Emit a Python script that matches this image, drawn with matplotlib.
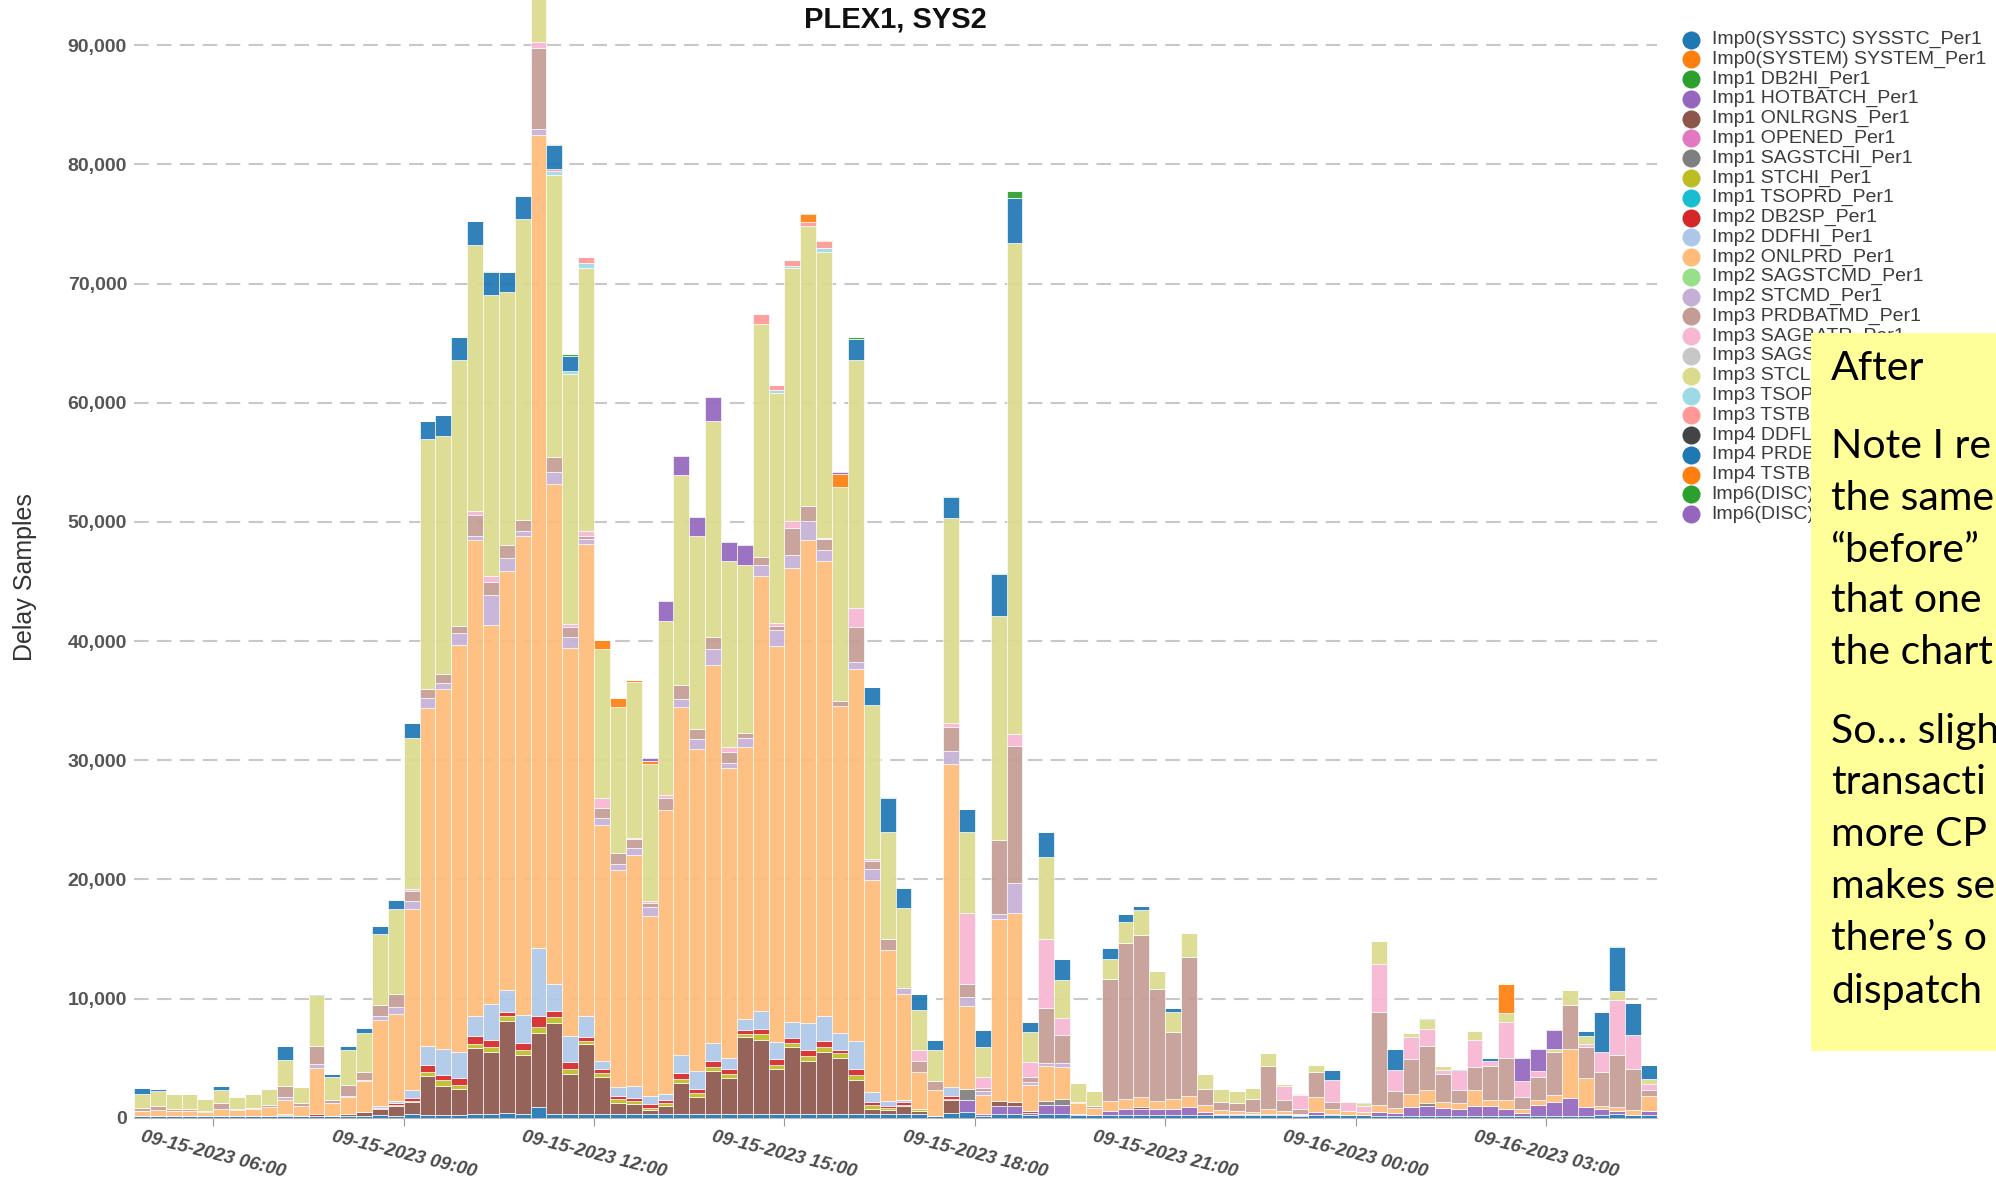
import numpy as np
import matplotlib.pyplot as plt
from matplotlib.patches import Rectangle
from matplotlib.lines import Line2D

plt.rcParams['font.family'] = ['Liberation Sans', 'DejaVu Sans']

# 96 intervals of 15 minutes, 09-15 04:45 .. 09-16 04:45
tick_pos = [5, 17, 29, 41, 53, 65, 77, 89]
tick_labels = ['09-15-2023 06:00', '09-15-2023 09:00', '09-15-2023 12:00', '09-15-2023 15:00',
               '09-15-2023 18:00', '09-15-2023 21:00', '09-16-2023 00:00', '09-16-2023 03:00']

# delay samples per service class
sysstc = [150, 150, 150, 150, 150, 150, 150, 150, 150, 150, 150, 150,
          150, 150, 150, 200, 160, 300, 200, 200, 200, 350, 300, 400,
          350, 900, 350, 350, 350, 350, 350, 350, 350, 350, 350, 350,
          350, 350, 350, 350, 350, 350, 350, 350, 350, 350, 350, 350,
          300, 300, 150, 400, 450, 150, 300, 300, 200, 300, 350, 200,
          200, 200, 200, 200, 200, 200, 200, 200, 200, 200, 200, 200,
          200, 150, 200, 200, 200, 200, 150, 150, 150, 150, 150, 150,
          150, 150, 150, 150, 150, 150, 150, 150, 200, 300, 200, 200]
hotbatch = [0, 0, 0, 0, 0, 0, 0, 0, 0, 0, 0, 0,
            0, 0, 0, 0, 0, 0, 0, 0, 0, 0, 0, 0,
            0, 0, 0, 0, 0, 0, 0, 0, 0, 0, 0, 0,
            0, 0, 0, 0, 0, 0, 0, 0, 0, 0, 0, 0,
            0, 0, 0, 0, 1000, 200, 700, 700, 200, 800, 750, 100,
            0, 400, 500, 500, 500, 500, 700, 250, 100, 100, 100, 100,
            100, 100, 250, 150, 0, 0, 300, 250, 750, 800, 650, 600,
            850, 800, 550, 250, 950, 1200, 1500, 750, 500, 300, 0, 350]
onlrgns = [0, 0, 0, 0, 0, 0, 0, 0, 0, 100, 0, 0,
           0, 150, 300, 500, 800, 1000, 3300, 2500, 2200, 5500, 5200, 7700,
           4900, 6200, 7600, 3300, 5800, 3100, 900, 800, 300, 600, 2600, 1400,
           3600, 3000, 6400, 6200, 3700, 5600, 4400, 5200, 4700, 2800, 400, 300,
           700, 300, 0, 1100, 0, 0, 400, 300, 150, 0, 0, 0,
           0, 0, 0, 200, 0, 0, 0, 0, 0, 0, 0, 0,
           0, 0, 0, 0, 0, 0, 0, 0, 0, 0, 0, 0,
           0, 0, 0, 0, 0, 0, 0, 0, 0, 0, 0, 0]
sagstchi = [0, 0, 0, 0, 0, 0, 0, 0, 0, 0, 0, 0,
            0, 0, 0, 0, 0, 0, 0, 0, 0, 0, 0, 0,
            0, 0, 0, 0, 0, 0, 0, 0, 0, 0, 0, 0,
            0, 0, 0, 0, 0, 0, 0, 0, 0, 0, 0, 0,
            0, 0, 0, 0, 950, 0, 0, 0, 0, 300, 450, 0,
            0, 0, 0, 0, 0, 0, 0, 0, 0, 0, 0, 0,
            0, 0, 0, 0, 0, 0, 0, 0, 0, 300, 0, 0,
            0, 0, 0, 0, 0, 0, 0, 0, 0, 0, 0, 0]
stchi = [0, 0, 0, 0, 0, 0, 0, 0, 0, 0, 0, 0,
         0, 0, 0, 0, 100, 100, 300, 450, 350, 350, 450, 400,
         400, 500, 500, 400, 300, 300, 300, 250, 200, 250, 300, 300,
         300, 300, 300, 500, 400, 300, 400, 400, 400, 400, 300, 150,
         100, 100, 0, 100, 0, 0, 0, 0, 0, 0, 0, 0,
         0, 0, 0, 0, 0, 0, 0, 0, 0, 0, 0, 0,
         0, 0, 0, 0, 0, 0, 0, 0, 0, 0, 0, 0,
         0, 0, 0, 0, 0, 0, 0, 0, 0, 0, 0, 0]
db2sp = [0, 0, 0, 0, 0, 0, 0, 0, 0, 100, 0, 150,
         0, 0, 0, 150, 150, 250, 600, 450, 550, 650, 600, 400,
         600, 900, 500, 600, 300, 300, 250, 250, 300, 300, 500, 400,
         550, 400, 300, 400, 500, 400, 500, 500, 200, 500, 300, 200,
         200, 0, 0, 200, 0, 0, 0, 0, 0, 0, 0, 0,
         0, 0, 0, 0, 0, 0, 0, 0, 0, 0, 0, 0,
         0, 0, 0, 0, 0, 0, 0, 0, 0, 0, 0, 0,
         0, 0, 0, 0, 0, 0, 0, 0, 0, 0, 0, 0]
ddfhi = [0, 0, 0, 0, 0, 0, 0, 0, 0, 0, 0, 0,
         0, 0, 0, 150, 200, 700, 1600, 2200, 2200, 1700, 3000, 1800,
         2400, 5700, 2300, 2200, 1800, 750, 800, 1000, 700, 500, 1500, 1500,
         1450, 1000, 900, 1500, 1400, 1400, 2300, 2100, 1500, 2400, 800, 400,
         200, 0, 0, 800, 0, 0, 0, 0, 0, 0, 0, 0,
         0, 0, 0, 0, 0, 0, 0, 0, 0, 0, 0, 0,
         0, 0, 0, 0, 0, 0, 0, 0, 0, 0, 0, 0,
         0, 0, 0, 0, 0, 0, 0, 0, 0, 0, 0, 0]
onlprd = [450, 500, 450, 450, 350, 600, 500, 550, 750, 1150, 800, 3900,
          1050, 1400, 2600, 7200, 7300, 15200, 28400, 30200, 34200, 39900, 31800, 35200,
          40200, 68300, 41900, 32600, 39600, 19750, 18200, 19400, 15100, 23800, 29200, 27000,
          31700, 24300, 22900, 36500, 33200, 38100, 40500, 38200, 27400, 31200, 17800, 12700,
          8900, 3100, 2200, 27100, 7000, 1550, 15300, 15900, 2200, 2900, 2700, 900,
          600, 800, 900, 800, 700, 850, 950, 600, 350, 300, 200, 450,
          300, 100, 1250, 350, 350, 300, 650, 400, 1100, 1100, 500, 500,
          1300, 550, 750, 300, 400, 550, 4150, 2450, 250, 300, 450, 1300]
stcmd = [0, 0, 0, 0, 0, 0, 0, 0, 0, 200, 0, 300,
         0, 150, 150, 300, 600, 600, 800, 500, 1000, 400, 2500, 1100,
         400, 500, 1000, 900, 400, 600, 500, 600, 700, 0, 700, 800,
         1400, 400, 700, 900, 1400, 1100, 1600, 900, 0, 600, 900, 0,
         500, 0, 0, 1100, 700, 300, 400, 2500, 250, 300, 300, 0,
         0, 0, 0, 0, 0, 0, 0, 0, 0, 0, 0, 0,
         0, 0, 0, 0, 0, 0, 0, 0, 0, 0, 0, 0,
         0, 0, 0, 0, 0, 0, 0, 0, 0, 0, 0, 0]
prdbatmd = [220, 300, 150, 100, 50, 450, 100, 100, 150, 1000, 300, 1500,
            300, 900, 600, 1000, 1100, 900, 800, 700, 600, 1700, 1100, 1100,
            900, 6800, 1300, 800, 300, 800, 900, 700, 400, 1000, 1200, 900,
            1000, 900, 400, 700, 300, 2200, 1300, 900, 400, 2900, 700, 900,
            0, 1000, 700, 2000, 1100, 300, 6200, 11500, 450, 4600, 2400, 100,
            200, 10250, 13100, 13600, 9400, 5650, 11650, 1400, 700, 600, 1100, 3550,
            850, 400, 2150, 600, 0, 0, 7800, 1400, 2900, 3700, 2400, 1100,
            1950, 2850, 3550, 1050, 1950, 3650, 3700, 2600, 2850, 4400, 3450, 450]
sagbatr = [0, 0, 0, 0, 0, 0, 0, 0, 0, 0, 0, 0,
           0, 0, 0, 0, 0, 150, 0, 0, 0, 400, 500, 0,
           0, 500, 0, 300, 400, 900, 0, 100, 150, 300, 0, 0,
           0, 500, 0, 0, 300, 600, 0, 100, 0, 1600, 200, 0,
           0, 900, 0, 300, 6000, 900, 0, 1000, 1200, 5800, 1400, 0,
           0, 0, 0, 0, 0, 0, 0, 0, 0, 0, 0, 0,
           1200, 1150, 0, 1900, 750, 500, 4000, 1800, 1900, 1400, 300, 1650,
           2300, 450, 3000, 1300, 500, 0, 0, 250, 1700, 4550, 2800, 550]
stclo = [1150, 1300, 1200, 1250, 1050, 1100, 1000, 1200, 1350, 2150, 1350, 4300,
         1950, 2950, 3300, 5900, 7100, 12700, 21000, 20000, 22300, 22300, 23600, 21200,
         25300, 5700, 23700, 21000, 22100, 12500, 12300, 13100, 11500, 14600, 17600, 16200,
         18100, 15600, 14100, 19600, 19300, 21300, 23500, 24000, 18000, 20800, 12900, 9000,
         6700, 3300, 2600, 17200, 6800, 2500, 18800, 41200, 2550, 6900, 3200, 1600,
         1200, 1700, 1700, 2100, 1500, 1700, 2000, 1200, 1100, 1000, 900, 1100,
         200, 100, 550, 0, 100, 200, 1900, 0, 300, 800, 300, 0,
         700, 0, 800, 0, 0, 250, 1200, 650, 0, 800, 0, 400]
tsop3 = [0, 0, 0, 0, 0, 0, 0, 0, 0, 0, 0, 0,
         0, 0, 0, 0, 0, 0, 0, 0, 0, 0, 0, 0,
         0, 0, 300, 200, 400, 0, 0, 0, 0, 0, 0, 0,
         0, 0, 0, 0, 200, 100, 0, 300, 0, 0, 0, 0,
         0, 0, 0, 0, 0, 0, 0, 0, 0, 0, 0, 0,
         0, 0, 0, 0, 0, 0, 0, 0, 0, 0, 0, 0,
         0, 100, 0, 0, 0, 0, 0, 0, 0, 0, 0, 0,
         0, 0, 0, 0, 0, 0, 0, 0, 0, 0, 0, 0]
tstb3 = [0, 0, 0, 0, 0, 0, 0, 0, 0, 0, 0, 0,
         0, 0, 0, 0, 0, 0, 0, 0, 0, 0, 0, 0,
         0, 0, 200, 0, 500, 0, 0, 0, 0, 0, 0, 0,
         0, 0, 0, 800, 400, 500, 300, 600, 0, 0, 0, 0,
         0, 0, 0, 0, 0, 0, 0, 0, 0, 0, 0, 0,
         0, 0, 0, 0, 0, 0, 0, 0, 0, 0, 0, 0,
         0, 0, 0, 0, 0, 0, 0, 0, 0, 0, 0, 0,
         0, 0, 0, 0, 0, 0, 0, 0, 0, 0, 0, 0]
prdbatlo = [500, 200, 80, 0, 0, 350, 0, 0, 0, 1200, 0, 100,
            200, 300, 450, 700, 800, 1200, 1500, 1800, 1900, 2000, 1900, 1700,
            1900, 0, 2000, 1300, 0, 0, 0, 0, 0, 0, 0, 0,
            0, 0, 0, 0, 0, 0, 0, 0, 0, 1800, 1500, 2800,
            1700, 1400, 900, 1800, 1900, 1500, 3500, 3800, 800, 2100, 1800, 0,
            0, 900, 700, 350, 0, 300, 0, 0, 0, 0, 0, 0,
            0, 0, 0, 800, 0, 100, 0, 1800, 0, 150, 0, 100,
            0, 200, 0, 0, 0, 0, 0, 450, 3350, 3650, 2700, 1200]
tstbatlo = [0, 0, 0, 0, 0, 0, 0, 0, 0, 0, 0, 0,
            0, 0, 0, 0, 0, 0, 0, 0, 0, 0, 0, 0,
            0, 0, 0, 0, 0, 700, 700, 200, 200, 0, 0, 0,
            0, 0, 0, 0, 0, 0, 700, 150, 1100, 0, 0, 0,
            0, 0, 0, 0, 0, 0, 0, 0, 0, 0, 0, 0,
            0, 0, 0, 0, 0, 0, 0, 0, 0, 0, 0, 0,
            0, 0, 0, 0, 0, 0, 0, 0, 0, 0, 0, 0,
            0, 0, 2400, 0, 0, 0, 0, 0, 0, 0, 0, 0]
disc1 = [0, 0, 0, 0, 0, 0, 0, 0, 0, 0, 0, 0,
         0, 0, 0, 0, 0, 0, 0, 0, 0, 0, 100, 0,
         0, 0, 100, 100, 0, 0, 0, 0, 0, 0, 0, 0,
         0, 0, 0, 0, 0, 0, 100, 0, 0, 150, 0, 100,
         0, 0, 0, 100, 0, 0, 150, 600, 0, 0, 0, 0,
         0, 0, 0, 0, 0, 0, 0, 0, 0, 0, 0, 0,
         0, 0, 0, 0, 0, 0, 0, 0, 0, 0, 0, 0,
         0, 0, 0, 0, 0, 0, 0, 0, 0, 150, 0, 0]
disc2 = [0, 0, 0, 0, 0, 0, 0, 0, 0, 0, 0, 0,
         0, 0, 0, 0, 0, 0, 0, 0, 0, 0, 0, 0,
         0, 0, 0, 0, 0, 0, 0, 0, 300, 1700, 1600, 1600,
         2000, 1600, 1700, 0, 0, 0, 0, 0, 150, 0, 0, 0,
         0, 0, 0, 0, 0, 0, 0, 0, 0, 0, 0, 0,
         0, 0, 0, 0, 0, 0, 0, 0, 0, 0, 0, 0,
         0, 0, 0, 0, 0, 0, 0, 0, 0, 0, 0, 0,
         0, 0, 0, 1950, 1850, 1550, 0, 0, 0, 0, 0, 0]

legend_labels = ['Imp0(SYSSTC) SYSSTC_Per1', 'Imp0(SYSTEM) SYSTEM_Per1', 'Imp1 DB2HI_Per1',
                 'Imp1 HOTBATCH_Per1', 'Imp1 ONLRGNS_Per1', 'Imp1 OPENED_Per1',
                 'Imp1 SAGSTCHI_Per1', 'Imp1 STCHI_Per1', 'Imp1 TSOPRD_Per1',
                 'Imp2 DB2SP_Per1', 'Imp2 DDFHI_Per1', 'Imp2 ONLPRD_Per1',
                 'Imp2 SAGSTCMD_Per1', 'Imp2 STCMD_Per1', 'Imp3 PRDBATMD_Per1',
                 'Imp3 SAGBATR_Per1', 'Imp3 SAGS', 'Imp3 STCL', 'Imp3 TSOP', 'Imp3 TSTB',
                 'Imp4 DDFL', 'Imp4 PRDB', 'Imp4 TSTB', 'Imp6(DISC)', 'Imp6(DISC)']
legend_colors = ['#1f77b4', '#ff7f0e', '#2ca02c', '#9467bd', '#8c564b', '#e377c2',
                 '#7f7f7f', '#bcbd22', '#17becf', '#d62728', '#aec7e8', '#ffbb78',
                 '#98df8a', '#c5b0d5', '#c49c94', '#f7b6d2', '#c7c7c7', '#dbdb8d',
                 '#9edae5', '#ff9896', '#444444', '#1f77b4', '#ff7f0e', '#2ca02c', '#9467bd']

note_lines = ['After', 'Note I re', 'the same', '\u201cbefore\u201d', 'that one', 'the chart',
              'So\u2026 sligh', 'transacti', 'more CP', 'makes se', 'there\u2019s o', 'dispatch']
note_y = [368, 446, 498, 550, 601, 653, 731, 783, 835, 887, 939, 991]

# stacking order follows the legend order
stack = [(sysstc, 0), (hotbatch, 3), (onlrgns, 4), (sagstchi, 6), (stchi, 7),
         (db2sp, 9), (ddfhi, 10), (onlprd, 11), (stcmd, 13), (prdbatmd, 14),
         (sagbatr, 15), (stclo, 17), (tsop3, 18), (tstb3, 19), (prdbatlo, 21),
         (tstbatlo, 22), (disc1, 23), (disc2, 24)]

W, H = 1996, 1186
fig = plt.figure(figsize=(W / 100, H / 100), dpi=100)
ax = fig.add_axes([134 / W, 68.3 / H, 1523 / W, 1117.7 / H])

x = np.arange(96)
bottom = np.zeros(96)
for vals, ci in stack:
    v = np.array(vals, dtype=float)
    ax.bar(x, v, width=1.0, bottom=bottom, align='edge', color=legend_colors[ci],
           alpha=0.92, edgecolor='white', linewidth=0.5, zorder=2)
    bottom += v

ax.set_xlim(0, 96)
ax.set_ylim(0, 93800)
ax.set_yticks(np.arange(0, 90001, 10000))
ax.set_yticklabels([f'{v:,}' for v in range(0, 90001, 10000)], fontsize=14,
                   fontweight='bold', color='#555555')
ax.yaxis.grid(True, linestyle=(0, (7, 4)), color='#c8c8c8', linewidth=1.5, zorder=0)
ax.set_axisbelow(True)
ax.tick_params(axis='y', length=0, pad=5)

ax.set_xticks(tick_pos)
ax.set_xticklabels(tick_labels, rotation=-14, ha='center', fontsize=13.5,
                   fontstyle='italic', fontweight='bold', color='#4a4a4a')
ax.tick_params(axis='x', length=5.5, color='#999999', pad=2.5)

for s in ['left', 'top', 'right']:
    ax.spines[s].set_visible(False)
ax.spines['bottom'].set_color('#bbbbbb')

fig.text(895 / W, 1 - 19 / H, 'PLEX1, SYS2', ha='center', va='center',
         fontsize=21, fontweight='bold', color='#111111')
fig.text(25 / W, 1 - 577 / H, 'Delay Samples', rotation=90, ha='center', va='center',
         fontsize=18, color='#333333')

# legend drawn by hand
for i, (lab, col) in enumerate(zip(legend_labels, legend_colors)):
    yy = 1 - (39.5 + 19.78 * i) / H
    fig.add_artist(Line2D([1690.5 / W], [yy], marker='o', markersize=13, color=col,
                          markeredgewidth=0, transform=fig.transFigure))
    fig.text(1711.5 / W, yy, lab, ha='left', va='center', fontsize=14, color='#3c3c3c')

# yellow note box on top
fig.add_artist(Rectangle((1811 / W, 1 - 1051 / H), 0.2, (1051 - 333) / H,
                         transform=fig.transFigure, facecolor='#ffff99',
                         edgecolor='none', zorder=10))
for line, yc in zip(note_lines, note_y):
    fig.text(1831 / W, 1 - yc / H, line, ha='left', va='center', fontsize=29.5,
             family=['Lato', 'DejaVu Sans'], color='black', zorder=11)

fig.savefig('out.png', dpi=100)
